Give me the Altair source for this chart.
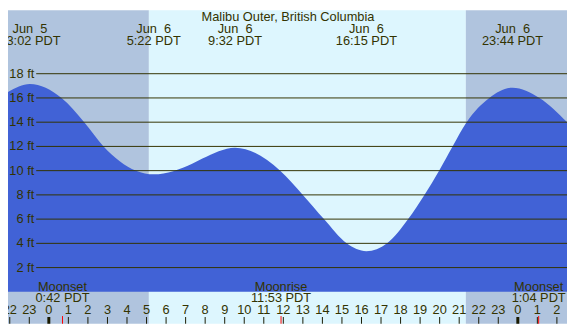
import altair as alt
import pandas as pd

W, H = 567, 318
SX, SY = W / 575, H / 326

title_text = "Malibu Outer, British Columbia"

# tide curve (hours from Jun 6 00:00, feet)
tide_hours = [-2.09, -0.97, 0.65, 1.81, 2.80, 4.46, 5.37, 7.36, 7.86, 9.53, 11.84,
              13.0, 14.08, 15.24, 16.25, 17.31, 18.39, 19.22, 19.97, 20.66, 21.38,
              22.54, 23.73, 25.11, 26.52]
tide_ft = [16.5, 17.15, 16.0, 14.0, 12.0, 10.0, 9.7, 10.6, 11.0, 11.9, 10.0,
           8.0, 6.0, 4.0, 3.35, 4.0, 6.0, 8.0, 10.0, 12.0, 14.0,
           16.0, 16.85, 16.0, 14.0]

# high / low events
event_hours = [-0.967, 5.367, 9.533, 16.25, 23.733]
event_dates = ["Jun\u00a0\u00a05", "Jun\u00a0\u00a06", "Jun\u00a0\u00a06",
               "Jun\u00a0\u00a06", "Jun\u00a0\u00a06"]
event_times = ["23:02 PDT", "5:22 PDT", "9:32 PDT", "16:15 PDT", "23:44 PDT"]

# moon events
moon_hours = [0.7, 11.883, 25.067]
moon_names = ["Moonset", "Moonrise", "Moonset"]
moon_times = ["0:42 PDT", "11:53 PDT", "1:04 PDT"]

# daylight
sun_start = [-2.09, 5.12, 21.34]
sun_end = [5.12, 21.34, 26.52]
sun_kind = ["night", "day", "night"]

# grid levels
grid_ft = [2, 4, 6, 8, 10, 12, 14, 16, 18]
grid_labels = [f"{v} ft" for v in grid_ft]

# hour ticks
tick_hours = list(range(-2, 27))
tick_labels = [str(h % 24) for h in tick_hours]
tick_width = [3 if h % 24 == 0 else 1 for h in tick_hours]

X_DOM = [-2.0896, 26.517]
Y_DOM = [-2.635, 23.238]
xs = alt.Scale(domain=X_DOM, nice=False, zero=False)
ys = alt.Scale(domain=Y_DOM, nice=False, zero=False)

TXT = "#333300"
FONT = "Liberation Sans"
FS = 13

sun_df = pd.DataFrame({"s": sun_start, "e": sun_end, "kind": sun_kind})
bg = alt.Chart(sun_df).mark_rect().encode(
    x=alt.X("s:Q", scale=xs, axis=None),
    x2="e:Q",
    y=alt.value(0),
    y2=alt.value(H),
    color=alt.Color("kind:N", scale=alt.Scale(domain=["night", "day"],
                                              range=["#B0C4DE", "#DDF6FE"]), legend=None),
)

tide_df = pd.DataFrame({"h": tide_hours, "ft": tide_ft})
area = alt.Chart(tide_df).mark_area(interpolate="monotone", color="#4162D6").encode(
    x=alt.X("h:Q", scale=xs, axis=None),
    y=alt.Y("ft:Q", scale=ys, axis=None),
    y2=alt.value(H),
)

grid_df = pd.DataFrame({"ft": grid_ft, "lab": grid_labels})
grid = alt.Chart(grid_df).mark_rule(color=TXT, strokeWidth=1).encode(
    x=alt.value(29 * SX),
    x2=alt.value(W),
    y=alt.Y("ft:Q", scale=ys, axis=None),
)
grid_text = alt.Chart(grid_df).mark_text(
    align="right", baseline="middle", font=FONT, fontSize=FS, color=TXT
).encode(
    x=alt.value(27 * SX),
    y=alt.Y("ft:Q", scale=ys, axis=None),
    text="lab:N",
)

title = alt.Chart(pd.DataFrame({"t": [title_text]})).mark_text(
    align="center", baseline="alphabetic", font=FONT, fontSize=FS, color=TXT
).encode(x=alt.value(288 * SX), y=alt.value(11.5 * SY), text="t:N")

ev_df = pd.DataFrame({"h": event_hours, "d": event_dates, "t": event_times})
ev1 = alt.Chart(ev_df).mark_text(
    align="center", baseline="alphabetic", font=FONT, fontSize=FS, color=TXT
).encode(x=alt.X("h:Q", scale=xs, axis=None), y=alt.value(23.5 * SY), text="d:N")
ev2 = alt.Chart(ev_df).mark_text(
    align="center", baseline="alphabetic", font=FONT, fontSize=FS, color=TXT
).encode(x=alt.X("h:Q", scale=xs, axis=None), y=alt.value(36 * SY), text="t:N")

moon_df = pd.DataFrame({"h": moon_hours, "n": moon_names, "t": moon_times})
mo1 = alt.Chart(moon_df).mark_text(
    align="center", baseline="alphabetic", font=FONT, fontSize=FS, color=TXT
).encode(x=alt.X("h:Q", scale=xs, axis=None), y=alt.value(291.5 * SY), text="n:N")
mo2 = alt.Chart(moon_df).mark_text(
    align="center", baseline="alphabetic", font=FONT, fontSize=FS, color=TXT
).encode(x=alt.X("h:Q", scale=xs, axis=None), y=alt.value(303.5 * SY), text="t:N")
mo_tick = alt.Chart(moon_df).mark_rule(color="#FF0000", strokeWidth=1).encode(
    x=alt.X("h:Q", scale=xs, axis=None), y=alt.value(318 * SY), y2=alt.value(H)
)

tick_df = pd.DataFrame({"h": tick_hours, "lab": tick_labels, "w": tick_width})
ticks = alt.Chart(tick_df).mark_rule(color="#1a1a00").encode(
    x=alt.X("h:Q", scale=xs, axis=None),
    y=alt.value(319 * SY),
    y2=alt.value(H),
    strokeWidth=alt.StrokeWidth("w:Q", scale=None, legend=None),
)
tick_text = alt.Chart(tick_df).mark_text(
    align="center", baseline="alphabetic", font=FONT, fontSize=FS, color=TXT
).encode(x=alt.X("h:Q", scale=xs, axis=None), y=alt.value(316 * SY), text="lab:N")

chart = alt.layer(
    bg, area, grid, grid_text, title, ev1, ev2, mo1, mo2, ticks, mo_tick, tick_text
).properties(
    width=W, height=H, autosize=alt.AutoSizeParams(type="none"), padding=0
).configure_view(stroke=None)

chart.save("out.html", embed_options={"renderer": "svg", "actions": False})
